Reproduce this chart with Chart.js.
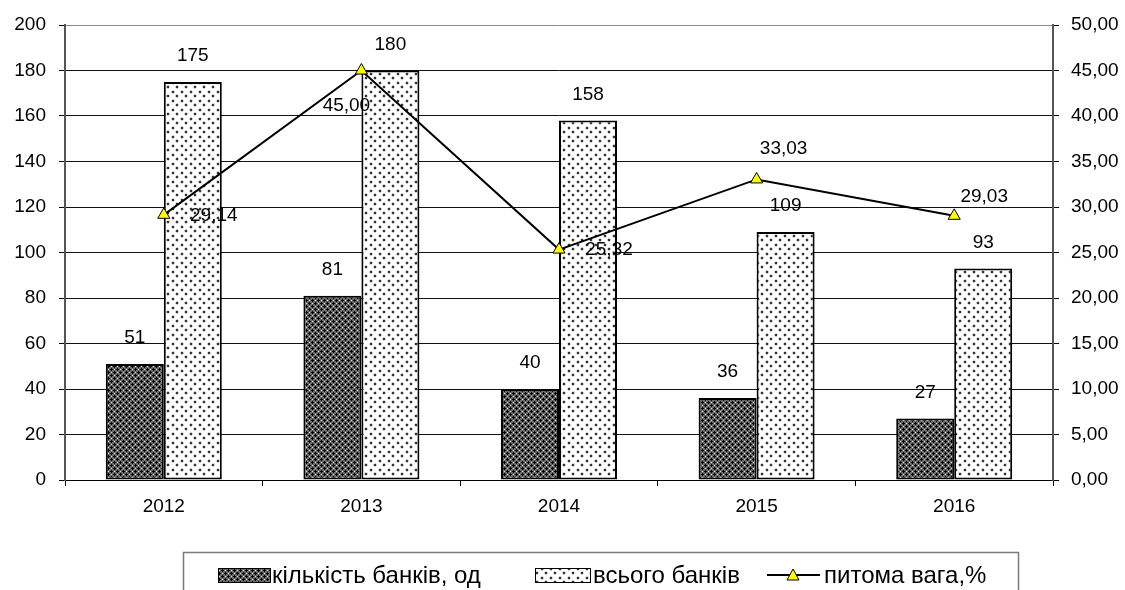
<!DOCTYPE html>
<html>
<head>
<meta charset="utf-8">
<title>Банки 2012–2016</title>
<script src="https://cdn.jsdelivr.net/npm/chart.js@4/dist/chart.umd.min.js"></script>
<style>
  html, body { margin: 0; padding: 0; background: #fff; }
  canvas { display: block; }
</style>
</head>
<body>
<canvas id="chart" width="1125" height="590"></canvas>
<script>
// Years on the category axis
const categories = ['2012', '2013', '2014', '2015', '2016'];
// Number of banks (units)
const bankCount = [51, 81, 40, 36, 27];
// Total number of banks
const bankTotal = [175, 180, 158, 109, 93];
// Share, %
const sharePct = [29.14, 45.00, 25.32, 33.03, 29.03];
// Series names
const seriesNames = ['кількість банків, од', 'всього банків', 'питома вага,%'];

// Label placement for the share line (dx, dy of the label centre from the point)
const shareLabelOffsets = [[50, 1], [-15, 35], [50, 0], [27, -31], [30, -19]];

const FONT = '"Liberation Sans", Arial, sans-serif';
const canvas = document.getElementById('chart');
const ctx = canvas.getContext('2d');

function makeDarkPattern() {
  const c = document.createElement('canvas');
  c.width = 6; c.height = 6;
  const g = c.getContext('2d');
  g.fillStyle = '#6a6a6a';
  g.fillRect(0, 0, 6, 6);
  g.fillStyle = '#000';
  [[0,0],[1,0],[5,0],[0,1],[0,5],[3,3],[2,3],[4,3],[3,2],[3,4]].forEach(p => g.fillRect(p[0], p[1], 1, 1));
  g.fillStyle = '#e0e0e0';
  [[3,0],[0,3]].forEach(p => g.fillRect(p[0], p[1], 1, 1));
  return ctx.createPattern(c, 'repeat');
}

function makeDotPattern() {
  const c = document.createElement('canvas');
  c.width = 9; c.height = 9;
  const g = c.getContext('2d');
  g.fillStyle = '#fff';
  g.fillRect(0, 0, 9, 9);
  g.fillStyle = '#d2d2d2';
  g.fillRect(0, 1, 4, 2); g.fillRect(1, 0, 2, 4);
  g.fillRect(4, 5, 4, 2); g.fillRect(5, 4, 2, 4);
  g.fillStyle = '#333';
  g.fillRect(1, 1, 2, 2);
  g.fillRect(5, 5, 2, 2);
  return ctx.createPattern(c, 'repeat');
}

const darkFill = makeDarkPattern();
const dotFill = makeDotPattern();

const fmt2 = v => v.toFixed(2).replace('.', ',');

// Value labels above bars and beside line points
const valueLabels = {
  id: 'valueLabels',
  afterDatasetsDraw(chart) {
    const c = chart.ctx;
    c.save();
    c.font = '19px ' + FONT;
    c.fillStyle = '#000';
    c.textAlign = 'center';
    c.textBaseline = 'middle';
    chart.data.datasets.forEach((ds, i) => {
      const meta = chart.getDatasetMeta(i);
      meta.data.forEach((el, j) => {
        const v = ds.data[j];
        if (ds.type === 'line') {
          const o = shareLabelOffsets[j];
          c.fillText(fmt2(v), el.x + o[0], el.y + o[1]);
        } else {
          c.fillText(String(v), el.x, el.y - 26);
        }
      });
    });
    c.restore();
  }
};

// Framed legend under the plot
const boxLegend = {
  id: 'boxLegend',
  afterDraw(chart) {
    const c = chart.ctx;
    c.save();
    c.strokeStyle = '#7a7a7a';
    c.lineWidth = 1.5;
    c.beginPath();
    c.moveTo(183.5, 595);
    c.lineTo(183.5, 552.5);
    c.lineTo(1018.5, 552.5);
    c.lineTo(1018.5, 595);
    c.stroke();

    c.font = '24px ' + FONT;
    c.fillStyle = '#000';
    c.textAlign = 'left';
    c.textBaseline = 'middle';
    const y = 575;

    c.fillStyle = darkFill;
    c.fillRect(218, 568, 52, 14);
    c.strokeStyle = '#000';
    c.lineWidth = 1;
    c.strokeRect(218.5, 568.5, 52, 14);
    c.fillStyle = '#000';
    c.fillText(seriesNames[0], 272, y + 1);

    c.fillStyle = dotFill;
    c.fillRect(535, 568, 55, 14);
    c.strokeRect(535.5, 568.5, 55, 14);
    c.fillStyle = '#000';
    c.fillText(seriesNames[1], 593, y + 1);

    c.lineWidth = 2;
    c.beginPath();
    c.moveTo(767, y);
    c.lineTo(820, y);
    c.stroke();
    c.beginPath();
    c.moveTo(793, y - 6);
    c.lineTo(799, y + 5);
    c.lineTo(787, y + 5);
    c.closePath();
    c.fillStyle = '#ffff00';
    c.fill();
    c.lineWidth = 1;
    c.stroke();
    c.fillStyle = '#000';
    c.fillText(seriesNames[2], 824, y + 1);
    c.restore();
  }
};

new Chart(ctx, {
  data: {
    labels: categories,
    datasets: [
      {
        type: 'line',
        label: seriesNames[2],
        data: sharePct,
        yAxisID: 'y1',
        order: 0,
        borderColor: '#000',
        borderWidth: 2,
        tension: 0,
        pointStyle: 'triangle',
        pointRadius: 7,
        pointBackgroundColor: '#ffff00',
        pointBorderColor: '#000',
        pointBorderWidth: 1
      },
      {
        type: 'bar',
        label: seriesNames[0],
        data: bankCount,
        yAxisID: 'y',
        order: 1,
        backgroundColor: darkFill,
        borderColor: '#000',
        borderWidth: 2,
        borderSkipped: false,
        categoryPercentage: 0.587,
        barPercentage: 1
      },
      {
        type: 'bar',
        label: seriesNames[1],
        data: bankTotal,
        yAxisID: 'y',
        order: 1,
        backgroundColor: dotFill,
        borderColor: '#000',
        borderWidth: 2,
        borderSkipped: false,
        categoryPercentage: 0.587,
        barPercentage: 1
      }
    ]
  },
  options: {
    responsive: false,
    animation: false,
    devicePixelRatio: 1,
    layout: { padding: { top: 25, left: 0, right: 0, bottom: 0 } },
    plugins: {
      legend: { display: false },
      tooltip: { enabled: false },
      title: { display: false }
    },
    scales: {
      x: {
        position: 'bottom',
        offset: true,
        afterFit: s => { s.height = 110; },
        grid: { drawOnChartArea: false, drawTicks: true, tickLength: 6, color: '#000', offset: true },
        border: { color: '#000', width: 1 },
        ticks: { color: '#000', font: { family: FONT, size: 19 }, padding: 9 }
      },
      y: {
        position: 'left',
        min: 0,
        max: 200,
        afterFit: s => { s.width = 65; },
        ticks: { stepSize: 20, color: '#000', font: { family: FONT, size: 19 }, padding: 13 },
        grid: {
          color: ctx2 => (ctx2.tick && ctx2.tick.value === 200) ? '#8a8a8a' : '#111',
          lineWidth: 1,
          tickLength: 6,
          tickColor: '#000'
        },
        border: { color: '#555', width: 2 }
      },
      y1: {
        position: 'right',
        min: 0,
        max: 50,
        afterFit: s => { s.width = 72; },
        ticks: {
          stepSize: 5,
          color: '#000',
          font: { family: FONT, size: 19 },
          padding: 12,
          callback: v => fmt2(v)
        },
        grid: { drawOnChartArea: false, tickLength: 6, color: '#000' },
        border: { color: '#555', width: 2 }
      }
    }
  },
  plugins: [valueLabels, boxLegend]
});
</script>
</body>
</html>
